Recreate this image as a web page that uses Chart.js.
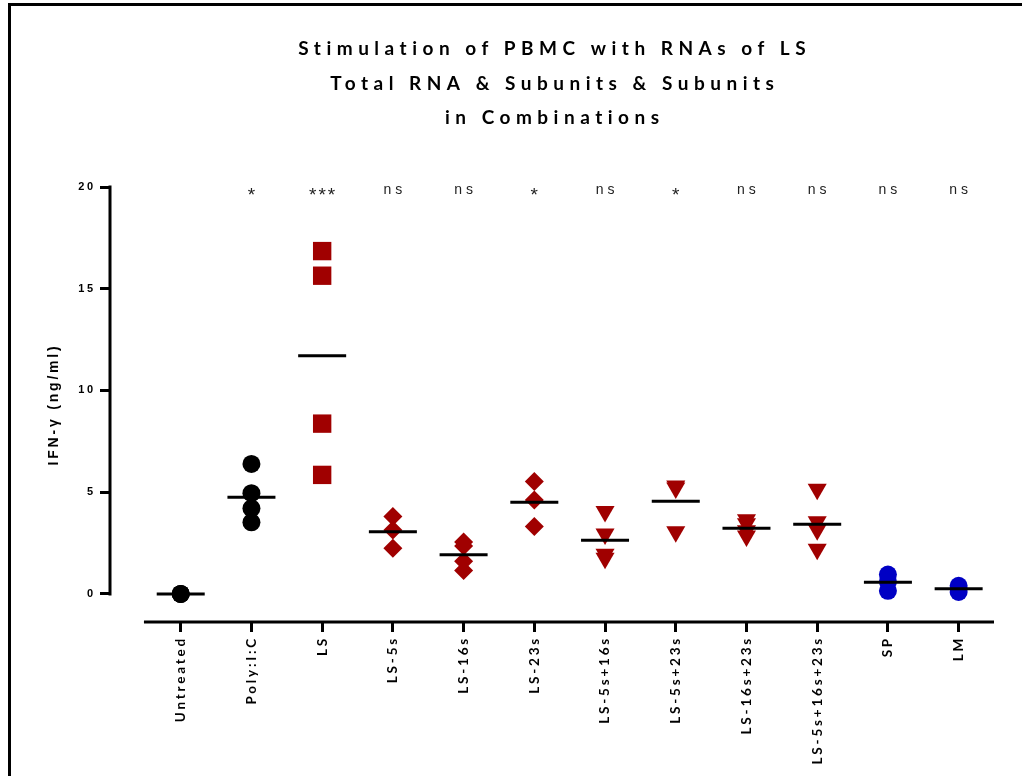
<!DOCTYPE html>
<html lang="en">
<head>
    <meta charset="UTF-8">
    <title>Stimulation of PBMC with RNAs of LS</title>
    <script src="https://cdn.jsdelivr.net/npm/chart.js@4.4.1/dist/chart.umd.min.js"></script>
    <style>
        html, body { margin: 0; padding: 0; background: #fff; }
        #wrap { position: relative; width: 1022px; height: 776px; overflow: hidden; }
        #chart { display: block; }
        #frame { position: absolute; left: 8px; top: 3px; right: 0; bottom: 0;
                 border-left: 3px solid #000; border-top: 3px solid #000; pointer-events: none; }
    </style>
</head>
<body>
    <div id="wrap">
        <canvas id="chart" width="1022" height="776"></canvas>
        <div id="frame"></div>
    </div>
    <script>
        // Groups along the x axis
        const categories = ['Untreated', 'Poly:I:C', 'LS', 'LS-5s', 'LS-16s', 'LS-23s',
            'LS-5s+16s', 'LS-5s+23s', 'LS-16s+23s', 'LS-5s+16s+23s', 'SP', 'LM'];
        const significance = ['', '*', '***', 'ns', 'ns', '*', 'ns', '*', 'ns', 'ns', 'ns', 'ns'];

        // IFN-g values (ng/ml)
        const untreated = [0, 0, 0];
        const polyIC = [6.39, 4.95, 4.21, 3.52];
        const ls = [16.85, 15.64, 8.37, 5.85];
        const ls5s = [3.8, 3.14, 2.24];
        const ls16s = [2.55, 2.35, 1.6, 1.15];
        const ls23s = [5.52, 4.62, 3.31];
        const ls5s16s = [4.05, 2.95, 1.95, 1.75];
        const ls5s23s = [5.3, 5.2, 3.05];
        const ls16s23s = [3.65, 3.45, 3.1, 2.85];
        const ls5s16s23s = [5.15, 3.55, 3.15, 2.2];
        const sp = [0.95, 0.6, 0.15];
        const lm = [0.4, 0.25, 0.1];
        const groupMeans = [0, 4.75, 11.7, 3.05, 1.92, 4.5, 2.64, 4.55, 3.23, 3.43, 0.57, 0.25];

        const yTicks = [0, 5, 10, 15, 20];
        const titleLines = ['Stimulation of PBMC with RNAs of LS',
            'Total RNA & Subunits & Subunits',
            'in Combinations'];

        const groups = [untreated, polyIC, ls, ls5s, ls16s, ls23s,
            ls5s16s, ls5s23s, ls16s23s, ls5s16s23s, sp, lm];

        const RED = '#a00000';
        const BLUE = '#0000c4';
        const BLACK = '#000000';

        function markerFor(i) {
            if (i <= 1) return { style: 'circle', color: BLACK, r: 9, rot: 0 };
            if (i === 2) return { style: 'rect', color: RED, r: 13, rot: 0 };
            if (i <= 5) return { style: 'rectRot', color: RED, r: 9.5, rot: 0 };
            if (i <= 9) return { style: 'triangle', color: RED, r: 11, rot: 180 };
            return { style: 'circle', color: BLUE, r: 9, rot: 0 };
        }

        const datasets = [{
            label: 'Mean',
            data: groupMeans.map((m, i) => ({ x: i, y: m })),
            pointStyle: 'line',
            pointRadius: 24,
            pointBorderColor: BLACK,
            pointBorderWidth: 3,
            order: 0
        }];
        groups.forEach((vals, i) => {
            const m = markerFor(i);
            datasets.push({
                label: categories[i],
                data: vals.map(v => ({ x: i, y: v })),
                pointStyle: m.style,
                pointRadius: m.r,
                pointRotation: m.rot,
                pointBackgroundColor: m.color,
                pointBorderColor: m.color,
                pointBorderWidth: 0,
                order: 1
            });
        });

        const SPACING = '2.8px';

        const axesAndText = {
            id: 'axesAndText',
            beforeLayout(chart) { chart.ctx.letterSpacing = SPACING; },
            beforeDraw(chart) { chart.ctx.letterSpacing = SPACING; },
            afterDraw(chart) {
                const { ctx, chartArea, scales: { x, y } } = chart;
                ctx.save();
                // prism style axis lines, offset from each other
                ctx.strokeStyle = BLACK;
                ctx.lineWidth = 3;
                ctx.beginPath();
                ctx.moveTo(chartArea.left, y.getPixelForValue(20) - 1.5);
                ctx.lineTo(chartArea.left, y.getPixelForValue(0) + 1.5);
                ctx.moveTo(x.getPixelForValue(-0.52), chartArea.bottom);
                ctx.lineTo(x.getPixelForValue(11.5), chartArea.bottom);
                ctx.stroke();

                // significance marks
                ctx.fillStyle = '#222';
                ctx.textAlign = 'center';
                ctx.textBaseline = 'middle';
                significance.forEach((s, i) => {
                    if (!s) return;
                    const star = s.indexOf('*') >= 0;
                    ctx.letterSpacing = star ? '2px' : '4px';
                    ctx.font = (star ? '19px' : '14px') + ' "Liberation Sans", Arial, sans-serif';
                    ctx.fillText(s, x.getPixelForValue(i) + (star ? 1 : 2), chartArea.top + (star ? 9 : 3));
                });

                // title
                ctx.fillStyle = BLACK;
                ctx.font = 'bold 19px Lato, "Open Sans", sans-serif';
                ctx.letterSpacing = '5.5px';
                const cx = (chartArea.left + chartArea.right) / 2;
                titleLines.forEach((t, k) => {
                    ctx.fillText(t, cx + 2.75, 49 + k * 34.5);
                });
                ctx.restore();
            }
        };

        new Chart(document.getElementById('chart'), {
            type: 'scatter',
            data: { datasets: datasets },
            options: {
                responsive: false,
                animation: false,
                events: [],
                layout: { padding: { left: 40, right: 28, top: 187, bottom: 0 } },
                plugins: {
                    legend: { display: false },
                    title: { display: false },
                    tooltip: { enabled: false }
                },
                scales: {
                    x: {
                        type: 'linear',
                        min: -1,
                        max: 11.5,
                        afterBuildTicks: s => { s.ticks = categories.map((c, i) => ({ value: i })); },
                        afterFit: s => { s.height = 154; },
                        border: { display: false },
                        grid: { drawOnChartArea: false, drawTicks: true, tickLength: 10, lineWidth: 3, color: BLACK },
                        ticks: {
                            autoSkip: false,
                            minRotation: 90,
                            maxRotation: 90,
                            padding: 4,
                            color: BLACK,
                            font: { family: 'Lato, "Open Sans", sans-serif', size: 13.5, weight: 'bold' },
                            callback: v => categories[v]
                        }
                    },
                    y: {
                        min: -1.38,
                        max: 20,
                        afterBuildTicks: s => { s.ticks = yTicks.map(v => ({ value: v })); },
                        afterFit: s => { s.width = 70; },
                        border: { display: false },
                        grid: { drawOnChartArea: false, drawTicks: true, tickLength: 10, lineWidth: 3, color: BLACK },
                        ticks: {
                            padding: 4,
                            color: BLACK,
                            font: { family: '"Liberation Sans", Arial, sans-serif', size: 11, weight: 'bold' }
                        },
                        title: {
                            display: true,
                            text: 'IFN-γ (ng/ml)',
                            color: BLACK,
                            padding: { top: 6, bottom: 0 },
                            font: { family: '"Liberation Sans", Arial, sans-serif', size: 14, weight: 'bold' }
                        }
                    }
                }
            },
            plugins: [axesAndText]
        });
    </script>
</body>
</html>
